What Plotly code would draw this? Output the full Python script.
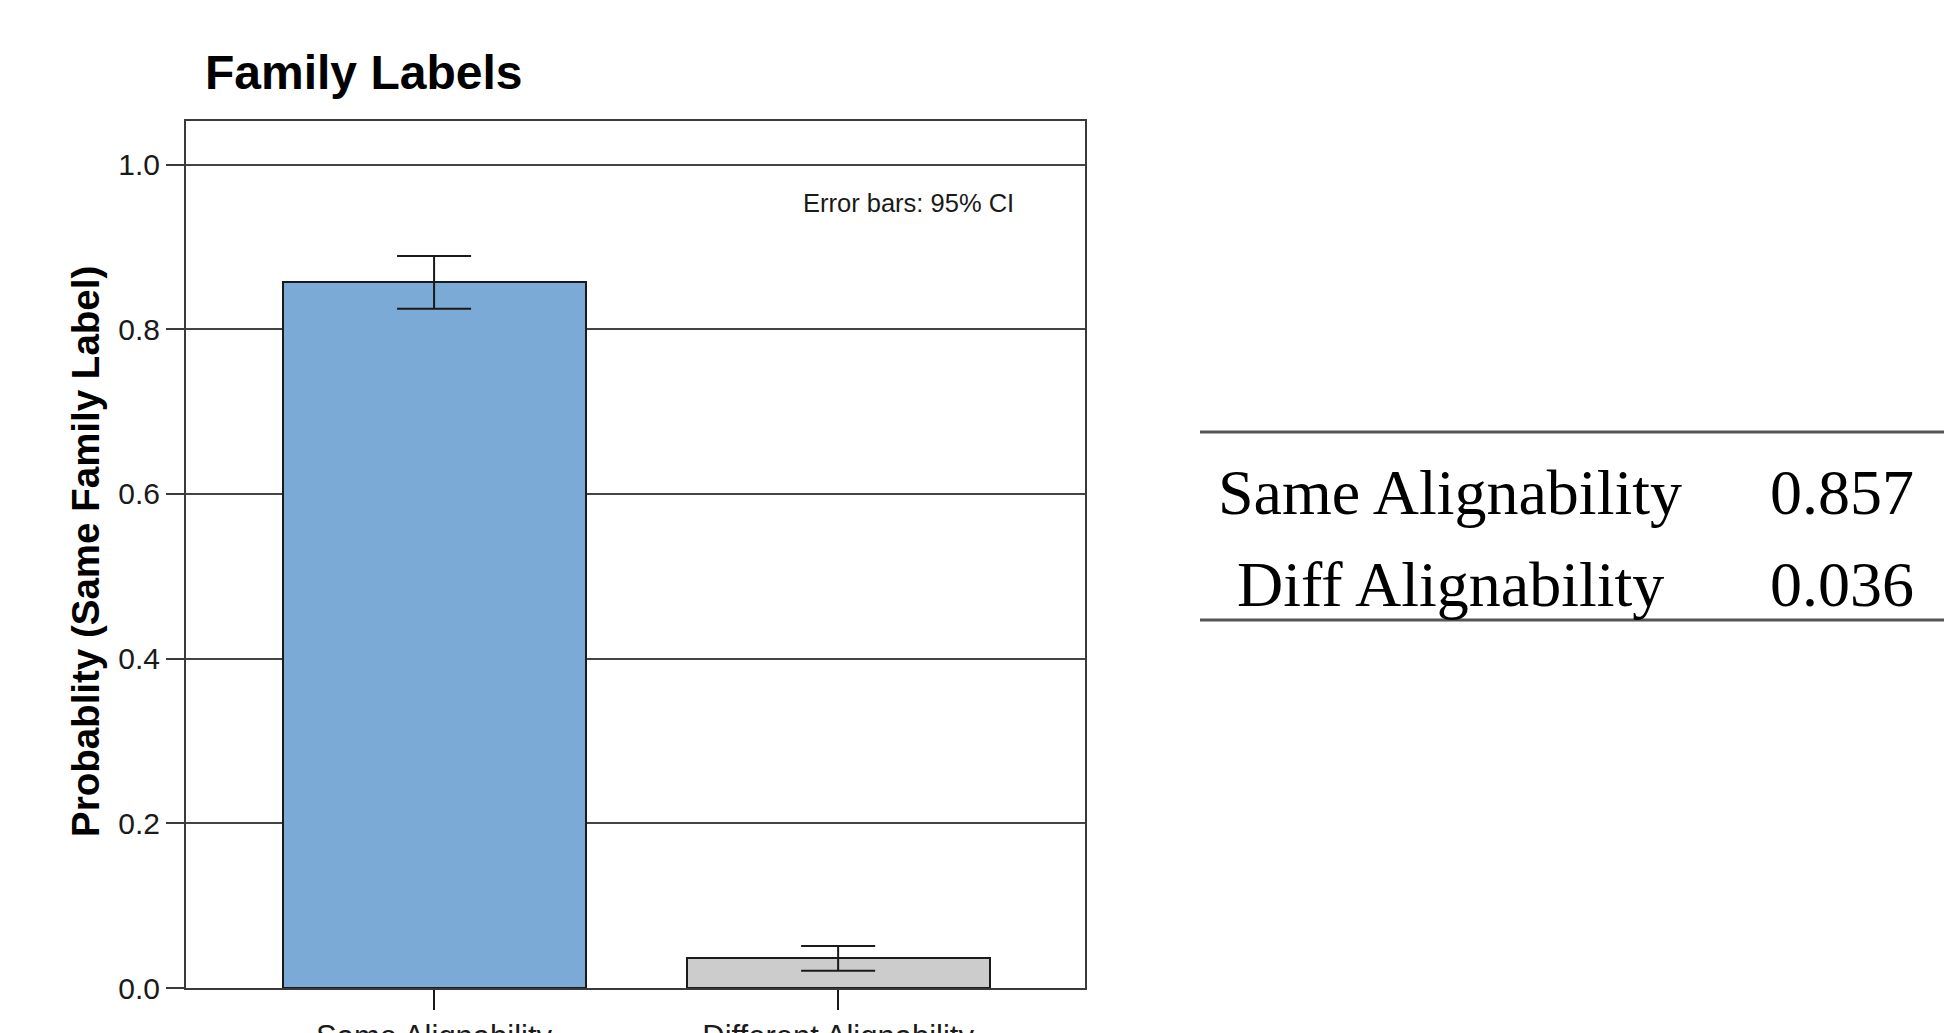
import plotly.graph_objects as go

# Bar chart data: probability of choosing the same family label
categories = ["Same Alignability", "Different Alignability"]
probabilities = [0.857, 0.036]
ci_half_width = [0.032, 0.015]
bar_colors = ["#7BAAD6", "#CCCCCC"]

y_tick_values = [0.0, 0.2, 0.4, 0.6, 0.8, 1.0]

# Summary table rows shown beside the chart
table_labels = ["Same Alignability", "Diff Alignability"]
table_values = probabilities

W, H = 1944, 1033


def px_x(x):
    return x / W


def px_y(y):
    return 1 - y / H


fig = go.Figure()

fig.add_trace(go.Bar(
    x=categories,
    y=probabilities,
    width=0.75,
    marker=dict(color=bar_colors, line=dict(color="#1a1a1a", width=2)),
    error_y=dict(type="data", array=ci_half_width, visible=True,
                 color="#1a1a1a", thickness=2, width=37),
    showlegend=False,
))

axis_line = "#3a3a3a"

fig.update_layout(
    width=W, height=H,
    margin=dict(l=0, r=0, t=0, b=0, autoexpand=False),
    paper_bgcolor="white",
    plot_bgcolor="white",
    font=dict(family="Liberation Sans, Arial, sans-serif", color="#1a1a1a"),
    title=dict(text="<b>Family Labels</b>", x=px_x(205), xanchor="left",
               y=px_y(72), yanchor="middle", yref="container",
               font=dict(size=48, color="black"), automargin=False),
    xaxis=dict(
        domain=[px_x(186), px_x(1085)],
        range=[-0.614, 1.611],
        automargin=False,
        showline=True, mirror=True, linecolor=axis_line, linewidth=2,
        ticks="outside", ticklen=20, tickwidth=2, tickcolor="#1a1a1a",
        tickfont=dict(size=31, color="#1a1a1a"),
        showgrid=False, zeroline=False,
    ),
    yaxis=dict(
        domain=[px_y(988), px_y(121)],
        range=[0, 1.053],
        automargin=False,
        tickvals=y_tick_values,
        ticktext=[f"{v:.1f}" for v in y_tick_values],
        showline=True, mirror=True, linecolor=axis_line, linewidth=2,
        ticks="outside", ticklen=18, tickwidth=2, tickcolor=axis_line,
        tickfont=dict(size=30, color="#1a1a1a"),
        showgrid=True, gridcolor="#444444", gridwidth=2,
        zeroline=False,
    ),
    bargap=0,
)

# Rotated y-axis title
fig.add_annotation(
    text="<b>Probablity (Same Family Label)</b>",
    xref="paper", yref="paper", x=px_x(85), y=px_y(552),
    xanchor="center", yanchor="middle", textangle=-90,
    showarrow=False, font=dict(size=38.5, color="black"),
)

# Error bar note inside the plot
fig.add_annotation(
    text="Error bars: 95% CI",
    xref="paper", yref="paper", x=px_x(801), y=px_y(203),
    xanchor="left", yanchor="middle",
    showarrow=False, font=dict(size=25.5, color="#1a1a1a"),
)

# Summary table: top and bottom rules
for y_rule in (432, 620):
    fig.add_shape(type="line", xref="paper", yref="paper",
                  x0=px_x(1200), x1=1.0, y0=px_y(y_rule), y1=px_y(y_rule),
                  line=dict(color="#555555", width=3))

row_centers = [492, 584]
for label, value, yc in zip(table_labels, table_values, row_centers):
    fig.add_annotation(
        text=label, xref="paper", yref="paper",
        x=px_x(1450), y=px_y(yc), xanchor="center", yanchor="middle",
        showarrow=False,
        font=dict(family="Liberation Serif, Times New Roman, serif", size=64, color="black"),
    )
    fig.add_annotation(
        text=f"{value:.3f}", xref="paper", yref="paper",
        x=px_x(1842), y=px_y(yc), xanchor="center", yanchor="middle",
        showarrow=False,
        font=dict(family="Liberation Serif, Times New Roman, serif", size=64, color="black"),
    )

fig.write_html("out.html")
